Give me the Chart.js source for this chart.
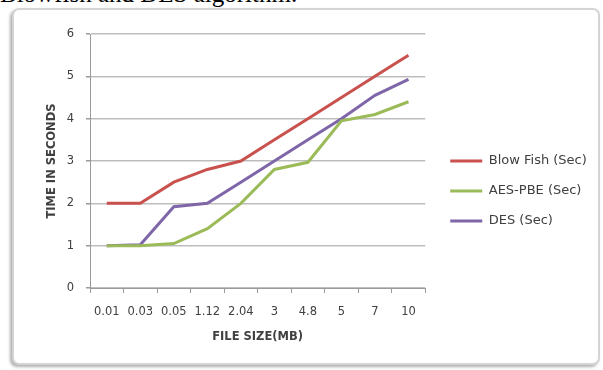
<!DOCTYPE html>
<html>
<head>
<meta charset="utf-8">
<script src="https://cdn.jsdelivr.net/npm/chart.js@4/dist/chart.umd.min.js"></script>
<style>
  html, body { margin: 0; padding: 0; background: #fff; width: 603px; height: 370px; overflow: hidden; position: relative; }
  #cap { position: absolute; left: 0; top: -20px; font: 25px "Liberation Serif", serif; color: #000; white-space: nowrap; }
  #frame { position: absolute; left: 12px; top: 8px; width: 584px; height: 353px; border: 2px solid #d4d4d4; border-radius: 7px; box-shadow: -2px 2px 3px #b0b0b0; background: #fff; }
  #wrap { position: absolute; left: 0; top: 0; width: 603px; height: 370px; }
</style>
</head>
<body>
<div id="cap">Blowfish and DES algorithm.</div>
<div id="frame"></div>
<div id="wrap"><canvas id="c" width="603" height="370"></canvas></div>
<script>
const categories = ["0.01", "0.03", "0.05", "1.12", "2.04", "3", "4.8", "5", "7", "10"];
const blowFish = [2, 2, 2.5, 2.8, 3, 3.5, 4, 4.5, 5, 5.5];
const aesPbe = [1, 1, 1.05, 1.4, 2, 2.8, 2.97, 3.95, 4.1, 4.4];
const des = [1, 1.02, 1.92, 2, 2.5, 3, 3.5, 4, 4.55, 4.93];
const yTicks = [0, 1, 2, 3, 4, 5, 6];
const seriesNames = ["Blow Fish (Sec)", "AES-PBE (Sec)", "DES (Sec)"];
const xTitle = "FILE SIZE(MB)";
const yTitle = "TIME IN SECONDS";

const colors = ["#c9514e", "#9bbb59", "#7f66a8"];
const mk = (label, data, color) => ({
  label, data, borderColor: color, backgroundColor: color,
  borderWidth: 3, pointRadius: 0, tension: 0, fill: false
});

const legendShift = {
  id: 'legendShift',
  afterLayout(chart) {
    const l = chart.legend;
    if (l) { l.left += 8; l.right = chart.width; l.width = l.right - l.left; }
  }
};

new Chart(document.getElementById('c'), {
  type: 'line',
  data: {
    labels: categories,
    datasets: [
      mk(seriesNames[0], blowFish, colors[0]),
      mk(seriesNames[1], aesPbe, colors[1]),
      mk(seriesNames[2], des, colors[2])
    ]
  },
  plugins: [legendShift],
  options: {
    responsive: false,
    animation: false,
    devicePixelRatio: 1,
    layout: { padding: { left: 42, top: 34, right: 50, bottom: 22 } },
    plugins: {
      legend: {
        position: 'right',
        labels: {
          usePointStyle: true,
          pointStyle: 'line',
          pointStyleWidth: 32,
          padding: 17,
          color: '#404040',
          font: { family: 'DejaVu Sans', size: 13 }
        }
      },
      tooltip: { enabled: false }
    },
    scales: {
      x: {
        offset: true,
        afterFit(s) { s.height = 60; },
        grid: { display: true, offset: true, drawOnChartArea: false, drawTicks: true, tickLength: 5, color: '#9a9a9a' },
        border: { display: true, color: '#9a9a9a', width: 1 },
        ticks: { color: '#404040', padding: 12, maxRotation: 0, autoSkip: false, font: { family: 'DejaVu Sans', size: 11.5 } },
        title: { display: true, text: xTitle, color: '#404040', padding: { top: 4, bottom: 4 }, font: { family: 'DejaVu Sans', size: 11.5, weight: 'bold' } }
      },
      y: {
        min: 0, max: 6,
        afterFit(s) { s.width = 48; },
        afterBuildTicks(s) { s.ticks = yTicks.map(v => ({ value: v })); },
        grid: { color: '#bdbdbd', lineWidth: 1.5, drawTicks: true, tickLength: 4, tickColor: '#9a9a9a' },
        border: { display: true, color: '#9a9a9a', width: 1 },
        ticks: { color: '#404040', padding: 12, font: { family: 'DejaVu Sans', size: 11.5 } },
        title: { display: true, text: yTitle, color: '#404040', padding: { top: 3, bottom: 0 }, font: { family: 'DejaVu Sans', size: 11.5, weight: 'bold' } }
      }
    }
  }
});
</script>
</body>
</html>
